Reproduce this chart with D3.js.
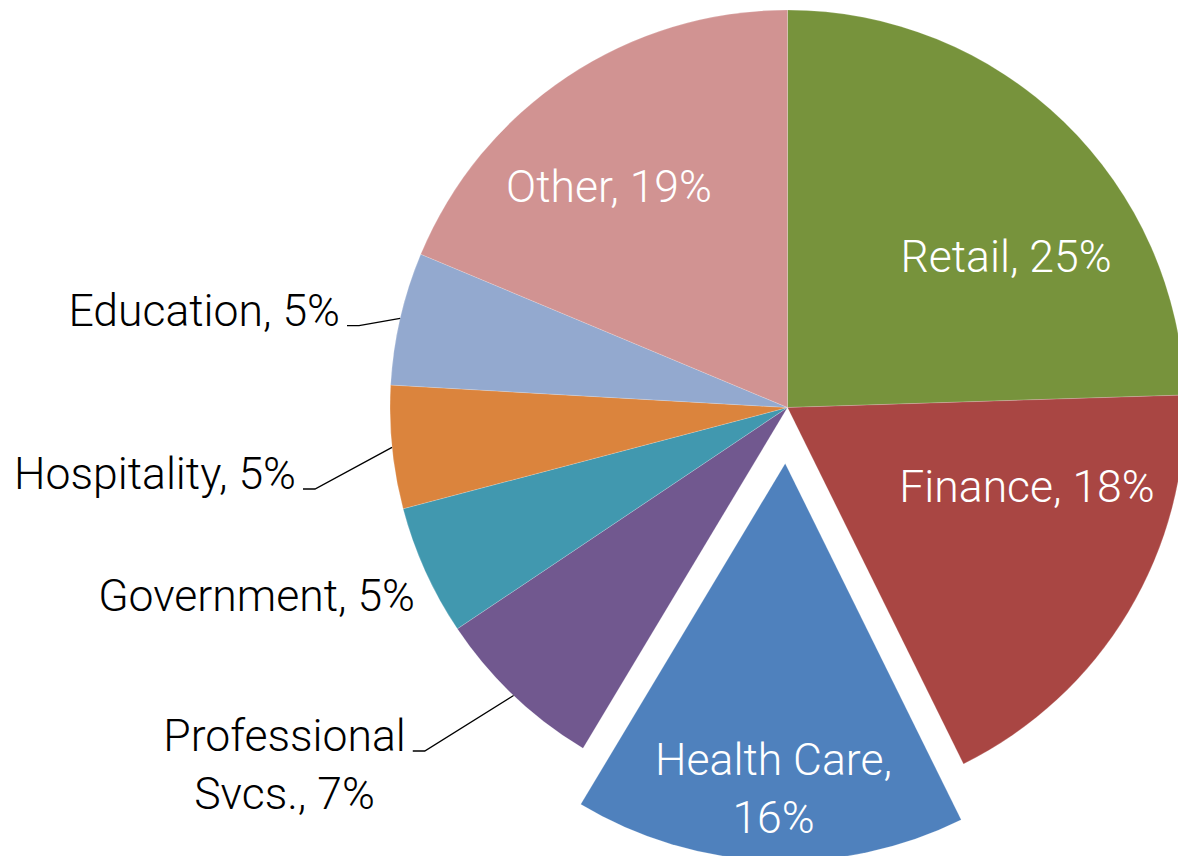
<!DOCTYPE html>
<html>
<head>
<meta charset="utf-8">
<script src="https://cdn.jsdelivr.net/npm/d3@7"></script>
<style>
  html, body { margin: 0; padding: 0; background: #fff; }
  svg { display: block; }
</style>
</head>
<body>
<div id="pie"></div>
<script>
const svgWidth = 1178;
const svgHeight = 856;

// data, clockwise from 12 o'clock
const categories = ["Retail", "Finance", "Health Care", "Professional Svcs.", "Government", "Hospitality", "Education", "Other"];
const shares = [24.5, 18.2, 15.9, 7.0, 5.3, 5.0, 5.4, 18.7];
const sliceColors = ["#77933C", "#A94643", "#4F81BD", "#71588F", "#4198AF", "#DB843D", "#93A9CF", "#D19392"];
const exploded = "Health Care";

// label text lines, split the way the chart wraps them
const labelLines = {
    "Retail": ["Retail, {p}"],
    "Finance": ["Finance, {p}"],
    "Health Care": ["Health Care,", "{p}"],
    "Professional Svcs.": ["Professional", "Svcs., {p}"],
    "Government": ["Government, {p}"],
    "Hospitality": ["Hospitality, {p}"],
    "Education": ["Education, {p}"],
    "Other": ["Other, {p}"]
};

const cx = 787.5, cy = 407.5, radius = 397.5, explodeBy = 56;
const fontSize = 44.5, lineGap = 58;

// label placement relative to pie centre: [dx, dy of first baseline, anchor, leader?]
const labelAt = {
    "Retail": [218.5, -135.8, "middle", false],
    "Finance": [239.5, 94.2, "middle", false],
    "Health Care": [-14, 367.5, "middle", false],
    "Other": [-178.5, -205.8, "middle", false],
    "Education": [-447.5, -81.8, "end", true],
    "Hospitality": [-491.5, 81.5, "end", true],
    "Government": [-372.5, 203.2, "end", false],
    "Professional Svcs.": [-503, 343.5, "middle", true]
};

const data = categories.map((c, i) => ({name: c, value: shares[i], color: sliceColors[i]}));

const svg = d3.select("#pie")
    .append("svg")
    .attr("width", svgWidth)
    .attr("height", svgHeight);

const g = svg.append("g")
    .attr("transform", "translate(" + cx + "," + cy + ")");

const pie = d3.pie()
    .value(d => d.value)
    .sort(null);

const arc = d3.arc()
    .innerRadius(0)
    .outerRadius(radius);

const edge = d3.arc()
    .innerRadius(radius)
    .outerRadius(radius);

const arcs = pie(data);

function shift(d) {
    if (d.data.name !== exploded) return [0, 0];
    const mid = (d.startAngle + d.endAngle) / 2;
    return [Math.sin(mid) * explodeBy, -Math.cos(mid) * explodeBy];
}

g.selectAll("path.slice")
    .data(arcs)
    .enter().append("path")
    .attr("class", "slice")
    .attr("d", arc)
    .attr("transform", d => "translate(" + shift(d) + ")")
    .style("fill", d => d.data.color)
    .style("stroke", "#fff")
    .style("stroke-opacity", 0.3)
    .style("stroke-width", 0.6);

const fmt = v => Math.round(v) + "%";

const labels = g.selectAll("text.lbl")
    .data(arcs)
    .enter().append("text")
    .attr("class", "lbl")
    .attr("x", d => labelAt[d.data.name][0])
    .attr("y", d => labelAt[d.data.name][1])
    .attr("text-anchor", d => labelAt[d.data.name][2])
    .style("font-family", "Roboto, 'Open Sans', sans-serif")
    .style("font-weight", 300)
    .style("font-size", fontSize + "px")
    .style("fill", d => labelAt[d.data.name][3] || d.data.name === "Government" ? "#000" : "#fff");

labels.selectAll("tspan")
    .data(d => labelLines[d.data.name].map(t => ({t: t.replace("{p}", fmt(d.data.value)), x: labelAt[d.data.name][0]})))
    .enter().append("tspan")
    .attr("x", d => d.x)
    .attr("dy", (d, i) => i === 0 ? 0 : lineGap)
    .text(d => d.t);

// leader lines for the outside labels, from the end of the first line to the slice edge
labels.each(function (d) {
    const pos = labelAt[d.data.name];
    if (!pos[3]) return;
    const first = d3.select(this).select("tspan").node();
    const w = first.getComputedTextLength();
    const x0 = (pos[2] === "end" ? pos[0] : pos[0] + w / 2) + 7;
    const y0 = pos[1];
    const tip = edge.centroid(d);
    g.append("polyline")
        .attr("points", [[x0, y0], [x0 + 12, y0], tip].map(p => p.join(",")).join(" "))
        .style("fill", "none")
        .style("stroke", "#000")
        .style("stroke-width", 1.3);
});
</script>
</body>
</html>
